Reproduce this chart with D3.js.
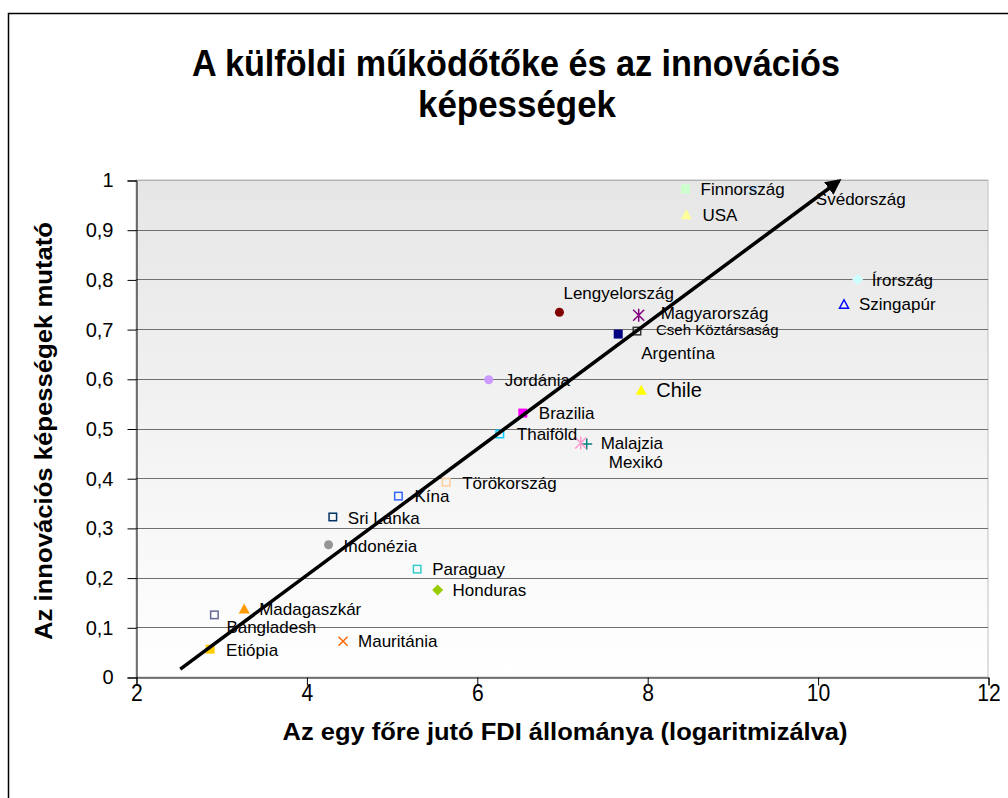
<!DOCTYPE html>
<html><head><meta charset="utf-8">
<script src="https://cdn.jsdelivr.net/npm/d3@7"></script>
<style>body{margin:0;background:#fff}svg{display:block}text{font-family:"Liberation Sans",Arial,sans-serif}</style>
</head><body><svg id="c" width="1008" height="798"></svg>
<script>
const countries = ["Finnország","Svédország","USA","Írország","Szingapúr","Lengyelország","Magyarország","Cseh Köztársaság","Argentína","Chile","Jordánia","Brazilia","Thaiföld","Malajzia","Mexikó","Törökország","Kína","Sri Lanka","Indonézia","Paraguay","Honduras","Madagaszkár","Bangladesh","Etiópia","Mauritánia"];
const fdi = [8.45,9.24,8.46,10.47,10.31,6.97,7.90,7.88,7.66,7.93,6.14,6.54,6.27,7.29,7.22,5.64,5.08,4.31,4.26,5.30,5.54,3.27,2.92,2.87,4.43];
const innov = [0.982,0.98,0.930,0.800,0.750,0.734,0.728,0.696,0.690,0.577,0.598,0.531,0.489,0.469,0.471,0.392,0.364,0.322,0.266,0.217,0.175,0.137,0.125,0.056,0.072];
const xTicks = [2,4,6,8,10,12];
const yTicks = [0,0.1,0.2,0.3,0.4,0.5,0.6,0.7,0.8,0.9,1];
const yTickLabels = ["0","0,1","0,2","0,3","0,4","0,5","0,6","0,7","0,8","0,9","1"];
const arrowFrom = [2.52,0.016];
const arrowTo = [10.25,0.998];

// marker styles: [shape, colour]
const markerStyle = [
 ["sq","#ccffcc"],["x","#99ccff"],["tri","#ffff99"],["dia","#ccffff"],["otri","#0000ff"],
 ["circ","#800000"],["ast","#800080"],["osq","#333333"],["sq","#000080"],["tri","#ffff00"],
 ["circ","#cc99ff"],["sq","#ff00ff"],["osq","#00ccff"],["plus","#008080"],["ast","#ff99cc"],
 ["osq","#ffcc99"],["osq","#3366ff"],["osq","#003366"],["circ","#969696"],["osq","#33cccc"],
 ["dia","#99cc00"],["tri","#ff9900"],["osq","#666699"],["sq","#ffcc00"],["x","#ff6600"]];
// label offsets relative to marker (px) and font sizes
const labelOff = [[15,0],[63,9],[16,0],[14,0],[15,0],[4,-19],[22,-2],[19,-1],[23,19],[15,0],
 [16,0],[16,0],[17,0],[14,-1],[28,19],[16,1],[16,0],[15,1],[15,1],[15,0],[15,0],[15,0],[12,12],[16,1],[15,0]];
const labelSize = countries.map(c=>c==="Chile"?20:(c==="Cseh Köztársaság"?15:17));

const svg = d3.select("#c");
const L=136,R=988,T=180,B=677;
const x = d3.scaleLinear().domain([2,12]).range([L,R]);
const y = d3.scaleLinear().domain([0,1]).range([B,T]);

svg.append("rect").attr("x",8.5).attr("y",13.5).attr("width",1020).attr("height",800).attr("fill","#fff").attr("stroke","#000").attr("stroke-width",1.5);

const defs = svg.append("defs");
const g = defs.append("linearGradient").attr("id","bg").attr("x1",0).attr("y1",0).attr("x2",0).attr("y2",1);
g.append("stop").attr("offset","0%").attr("stop-color","#e6e6e6");
g.append("stop").attr("offset","100%").attr("stop-color","#ffffff");
defs.append("marker").attr("id","ah").attr("viewBox","0 0 10 10").attr("refX",8).attr("refY",5)
 .attr("markerWidth",4.5).attr("markerHeight",4.5).attr("orient","auto").attr("markerUnits","strokeWidth")
 .append("path").attr("d","M0,0L10,5L0,10z").attr("fill","#000");

svg.append("rect").attr("x",L).attr("y",T).attr("width",R-L).attr("height",B-T).attr("fill","url(#bg)").attr("stroke","#c0c0c0");

// gridlines
svg.append("g").selectAll("line").data(yTicks.slice(1)).join("line")
 .attr("x1",L).attr("x2",R).attr("y1",d=>Math.round(y(d))+0.5).attr("y2",d=>Math.round(y(d))+0.5)
 .attr("stroke",d=>d===1?"#b0b0b0":"#707070").attr("stroke-width",1);

// axes
const yAxis = d3.axisLeft(y).tickValues(yTicks).tickFormat((d,i)=>yTickLabels[i]).tickSize(9).tickPadding(14);
const ya = svg.append("g").attr("transform",`translate(${L+0.5},0.5)`).call(yAxis);
const xAxis = d3.axisBottom(x).tickValues(xTicks).tickFormat(d3.format("d")).tickSize(8).tickPadding(-1);
const xa = svg.append("g").attr("transform",`translate(0.5,${B+0.5})`).call(xAxis);
[ya,xa].forEach(a=>{a.select(".domain").attr("stroke","#000");a.selectAll(".tick line").attr("stroke","#000");
 a.selectAll("text").attr("font-size",20).attr("fill","#000").attr("font-family","Liberation Sans, Arial, sans-serif");});
xa.selectAll("text").attr("font-size",23).attr("transform","scale(0.92,1)");

// markers
const mk = svg.append("g");
const s = 4.5;
countries.forEach((c,i)=>{
  const px=x(fdi[i]), py=y(innov[i]); const [shape,col]=markerStyle[i];
  const gg = mk.append("g").attr("transform",`translate(${px},${py})`);
  if(shape==="sq") gg.append("rect").attr("x",-s).attr("y",-s).attr("width",2*s).attr("height",2*s).attr("fill",col);
  else if(shape==="osq") gg.append("rect").attr("x",-s+0.75).attr("y",-s+0.75).attr("width",2*s-1.5).attr("height",2*s-1.5).attr("fill","none").attr("stroke",col).attr("stroke-width",1.5);
  else if(shape==="tri") gg.append("path").attr("d",`M0,${-s-1}L${s+1},${s}L${-s-1},${s}Z`).attr("fill",col);
  else if(shape==="otri") gg.append("path").attr("d",`M0,${-s}L${s},${s-0.5}L${-s},${s-0.5}Z`).attr("fill","none").attr("stroke",col).attr("stroke-width",1.5);
  else if(shape==="dia") gg.append("path").attr("d",`M0,${-s-1}L${s+1},0L0,${s+1}L${-s-1},0Z`).attr("fill",col);
  else if(shape==="circ") gg.append("circle").attr("r",s).attr("fill",col);
  else if(shape==="x") gg.append("path").attr("d",`M${-s},${-s}L${s},${s}M${s},${-s}L${-s},${s}`).attr("stroke",col).attr("stroke-width",1.5);
  else if(shape==="plus") gg.append("path").attr("d",`M${-s-1},0L${s+1},0M0,${-s-1}L0,${s+1}`).attr("stroke",col).attr("stroke-width",1.5);
  else if(shape==="ast") gg.append("path").attr("d",`M${-s-1},${-s-1}L${s+1},${s+1}M${s+1},${-s-1}L${-s-1},${s+1}M0,${-s-2}L0,${s+2}`).attr("stroke",col).attr("stroke-width",1.5);
});

// trend arrow
svg.append("line").attr("x1",x(arrowFrom[0])).attr("y1",y(arrowFrom[1])).attr("x2",x(arrowTo[0])).attr("y2",y(arrowTo[1]))
 .attr("stroke","#000").attr("stroke-width",3.5).attr("marker-end","url(#ah)");

// labels
svg.append("g").selectAll("text").data(countries).join("text")
 .attr("x",(d,i)=>x(fdi[i])+labelOff[i][0]).attr("y",(d,i)=>y(innov[i])+labelOff[i][1])
 .attr("dy","0.36em").attr("font-size",(d,i)=>labelSize[i]).attr("fill","#000").text(d=>d);

// titles
svg.append("text").attr("x",516).attr("y",76).attr("text-anchor","middle").attr("font-size",36).attr("font-weight","bold")
 .attr("textLength",648).attr("lengthAdjust","spacingAndGlyphs").text("A külföldi működőtőke és az innovációs");
svg.append("text").attr("x",517).attr("y",117).attr("text-anchor","middle").attr("font-size",36).attr("font-weight","bold")
 .attr("textLength",198).attr("lengthAdjust","spacingAndGlyphs").text("képességek");
svg.append("text").attr("x",565).attr("y",740).attr("text-anchor","middle").attr("font-size",24).attr("font-weight","bold")
 .attr("textLength",565).attr("lengthAdjust","spacingAndGlyphs").text("Az egy főre jutó FDI állománya (logaritmizálva)");
svg.append("text").attr("transform","translate(52,431) rotate(-90)").attr("text-anchor","middle").attr("font-size",23).attr("font-weight","bold")
 .attr("textLength",418).attr("lengthAdjust","spacingAndGlyphs").text("Az innovációs képességek mutató");
</script></body></html>
